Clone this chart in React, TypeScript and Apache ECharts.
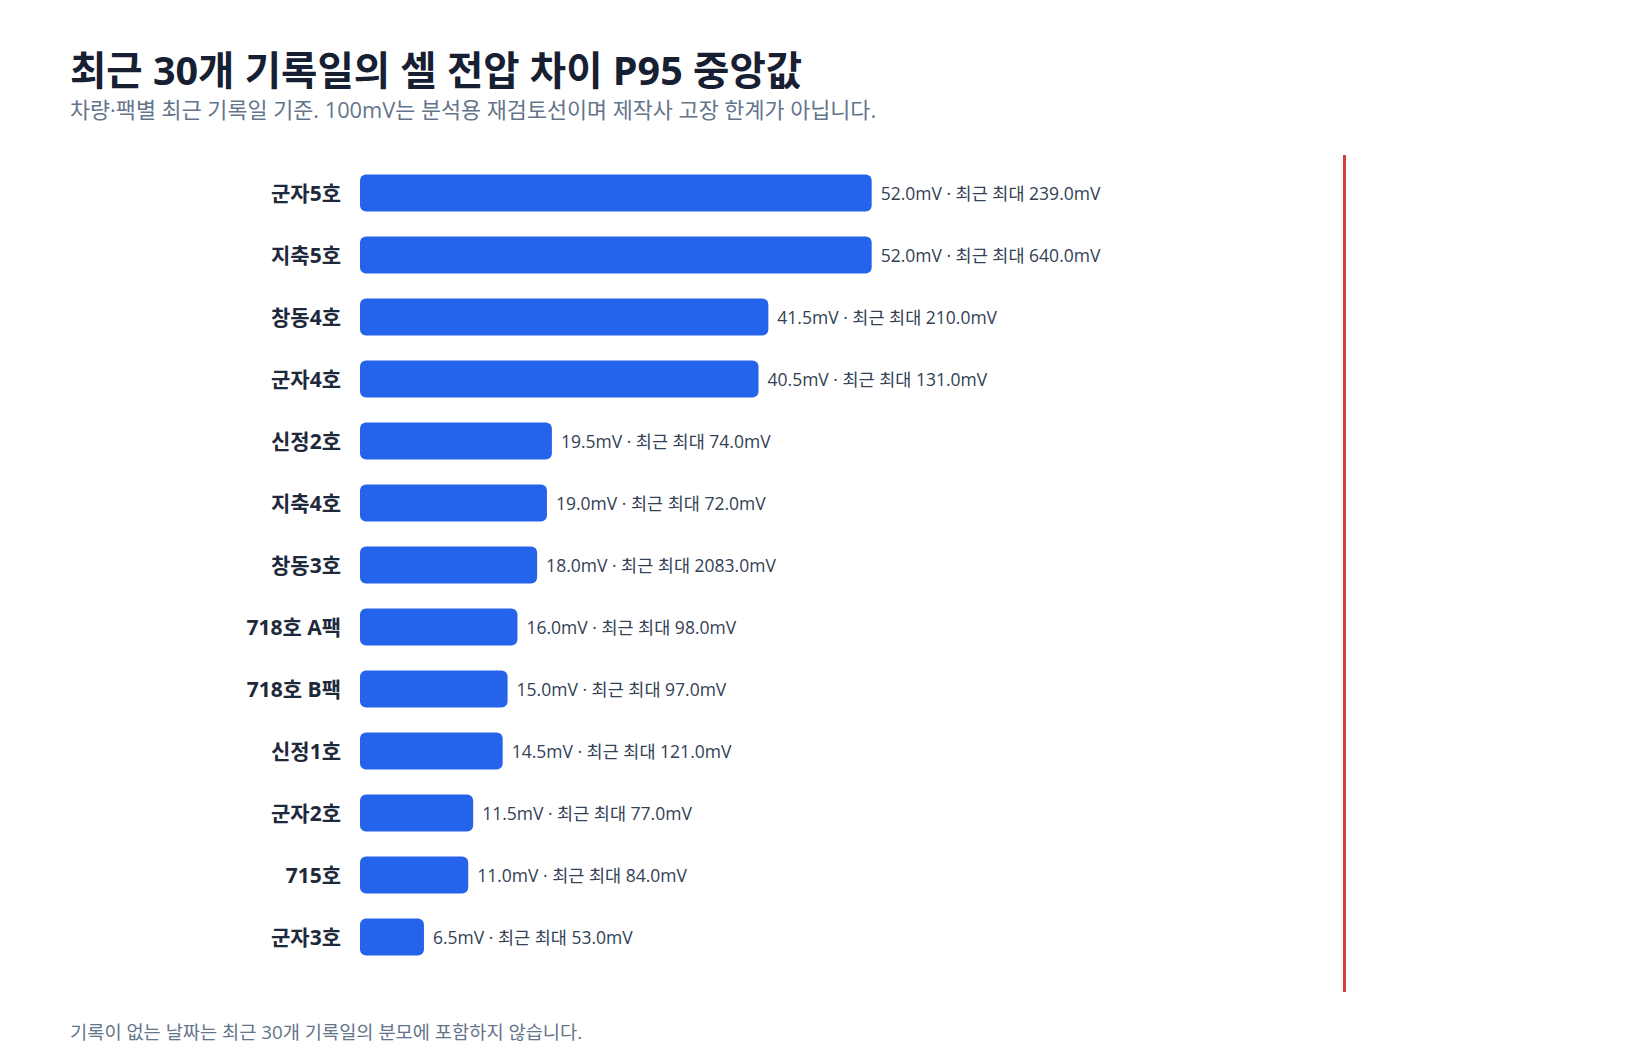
import React, { useEffect, useRef } from "react";
import * as echarts from "echarts";

const categories = ["군자5호", "지축5호", "창동4호", "군자4호", "신정2호", "지축4호", "창동3호", "718호 A팩", "718호 B팩", "신정1호", "군자2호", "715호", "군자3호"];
const p95Median = [52.0, 52.0, 41.5, 40.5, 19.5, 19.0, 18.0, 16.0, 15.0, 14.5, 11.5, 11.0, 6.5];
const recentMax = [239.0, 640.0, 210.0, 131.0, 74.0, 72.0, 2083.0, 98.0, 97.0, 121.0, 77.0, 84.0, 53.0];
const thresholdMv = 100;

const titleText = "최근 30개 기록일의 셀 전압 차이 P95 중앙값";
const subtitleText = "차량·팩별 최근 기록일 기준. 100mV는 분석용 재검토선이며 제작사 고장 한계가 아닙니다.";
const footnoteText = "기록이 없는 날짜는 최근 30개 기록일의 분모에 포함하지 않습니다.";

const FONT = "'Open Sans', 'Noto Sans CJK KR', sans-serif";

export default function App() {
  const ref = useRef<HTMLDivElement>(null);
  useEffect(() => {
    if (!ref.current) return;
    const chart = echarts.init(ref.current, null, { renderer: "svg" });
    chart.setOption({
      animation: false,
      backgroundColor: "#ffffff",
      textStyle: { fontFamily: FONT },
      graphic: [
        {
          type: "text",
          x: 70,
          y: 70,
          style: {
            text: titleText,
            font: `bold 39.5px ${FONT}`,
            lineHeight: 40,
            fill: "#172033",
            verticalAlign: "middle",
          },
        },
        {
          type: "text",
          x: 70,
          y: 109,
          style: {
            text: subtitleText,
            font: `21.8px ${FONT}`,
            lineHeight: 22,
            fill: "#64748b",
            verticalAlign: "middle",
          },
        },
        {
          type: "text",
          x: 70,
          y: 1031,
          style: {
            text: footnoteText,
            font: `18.7px ${FONT}`,
            lineHeight: 19,
            fill: "#64748b",
            verticalAlign: "middle",
          },
        },
      ],
      grid: [
        { left: 360, width: 984, top: 162, height: 806, containLabel: false },
        { left: 360, width: 984, top: 155, height: 837, containLabel: false },
      ],
      xAxis: [
        { type: "value", gridIndex: 0, min: 0, max: thresholdMv, show: false },
        { type: "value", gridIndex: 1, min: 0, max: thresholdMv, show: false },
      ],
      yAxis: [
        {
          type: "category",
          gridIndex: 0,
          data: categories,
          inverse: true,
          axisLine: { show: false },
          axisTick: { show: false },
          axisLabel: {
            margin: 19,
            fontSize: 21,
            fontWeight: "bold",
            color: "#1e293b",
            fontFamily: FONT,
          },
        },
        { type: "value", gridIndex: 1, show: false, min: 0, max: 1 },
      ],
      series: [
        {
          type: "bar",
          xAxisIndex: 0,
          yAxisIndex: 0,
          data: p95Median,
          barWidth: 37,
          itemStyle: { color: "#2563eb", borderRadius: 6 },
          label: {
            show: true,
            position: "right",
            distance: 9,
            fontSize: 17.5,
            color: "#334155",
            fontFamily: FONT,
            formatter: (p: any) =>
              `${p95Median[p.dataIndex].toFixed(1)}mV · 최근 최대 ${recentMax[p.dataIndex].toFixed(1)}mV`,
          },
        },
        {
          type: "line",
          xAxisIndex: 1,
          yAxisIndex: 1,
          data: [],
          silent: true,
          markLine: {
            silent: true,
            symbol: "none",
            label: { show: false },
            lineStyle: { color: "#d13f3f", width: 3, type: "solid" },
            data: [{ xAxis: thresholdMv }],
          },
        },
      ],
    });
    return () => chart.dispose();
  }, []);
  return (
    <div
      ref={ref}
      style={{ position: "fixed", left: 0, top: 0, width: 1640, height: 1056 }}
    />
  );
}
